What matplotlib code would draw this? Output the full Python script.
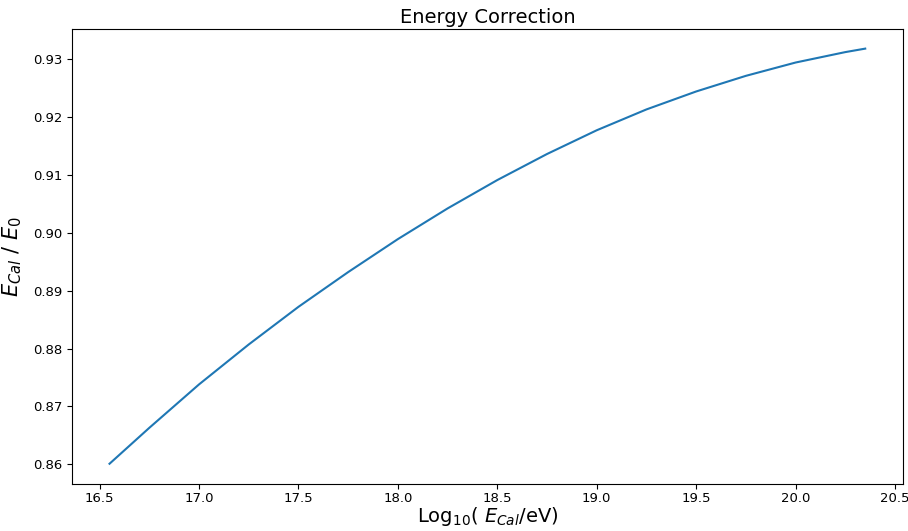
import matplotlib
matplotlib.use("Agg")
import matplotlib.pyplot as plt

# log10 of calorimetric energy and the corresponding E_cal / E_0 ratio
log_e_cal = [16.55, 16.75, 17.0, 17.25, 17.5, 17.75, 18.0, 18.25, 18.5,
             18.75, 19.0, 19.25, 19.5, 19.75, 20.0, 20.25, 20.35]
ratio = [0.8601, 0.8663, 0.8738, 0.8807, 0.8872, 0.8932, 0.8989, 0.9042, 0.9091,
         0.9136, 0.9177, 0.9213, 0.9244, 0.9271, 0.9294, 0.9312, 0.9318]

x_ticks = [16.5, 17.0, 17.5, 18.0, 18.5, 19.0, 19.5, 20.0, 20.5]
y_ticks = [0.86, 0.87, 0.88, 0.89, 0.90, 0.91, 0.92, 0.93]

fig = plt.figure(figsize=(9.08, 5.31), dpi=100)
ax = fig.add_axes([0.079, 0.0885, 0.9155, 0.857])

ax.plot(log_e_cal, ratio, color="#1f77b4", linewidth=1.5)

ax.set_title("Energy Correction", fontsize=14, pad=4)
ax.set_xlabel(r"Log$_{10}$( $E_{Cal}$/eV)", fontsize=14, labelpad=0)
ax.set_ylabel(r"$E_{Cal}$ / $E_0$", fontsize=15, labelpad=6)

ax.set_xlim(16.36, 20.54)
ax.set_ylim(0.8566, 0.9352)
ax.set_xticks(x_ticks)
ax.set_yticks(y_ticks)
ax.set_yticklabels([f"{v:.2f}" for v in y_ticks])
ax.tick_params(labelsize=9.5)
ax.tick_params(axis="x", pad=2.5)

fig.savefig("out.png", dpi=100)
